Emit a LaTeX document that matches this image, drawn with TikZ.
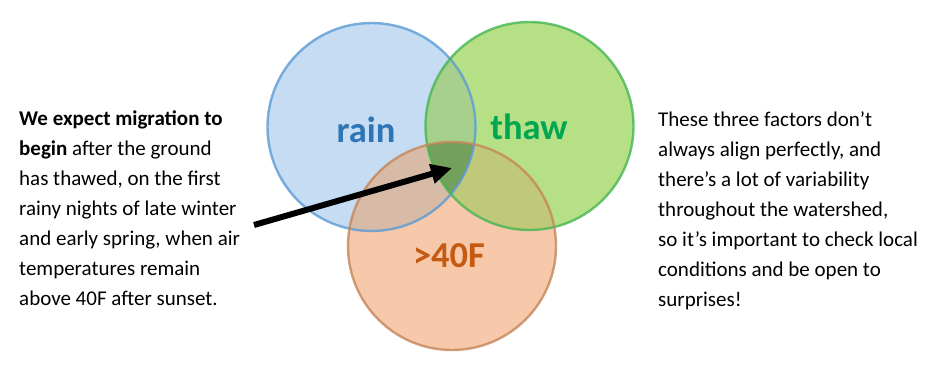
\documentclass[tikz,border=0pt]{standalone}
\usepackage{fontspec}
\setmainfont{Carlito}
\usetikzlibrary{arrows.meta}
\definecolor{rainline}{HTML}{5B9BD5}
\definecolor{rainfill}{HTML}{C5DCF2}
\definecolor{raintext}{HTML}{2E75B6}
\definecolor{thawline}{HTML}{45B653}
\definecolor{thawfill}{HTML}{B6E086}
\definecolor{thawtext}{HTML}{00A650}
\definecolor{templine}{HTML}{C5865A}
\definecolor{tempfill}{HTML}{F7C8AA}
\definecolor{temptext}{HTML}{C55A11}
\definecolor{rtfill}{HTML}{A6D08C}
\definecolor{rxfill}{HTML}{D8BBA6}
\definecolor{txfill}{HTML}{C0C87A}
\definecolor{allfill}{HTML}{73A05A}
\tikzset{
  venn/.style={circle, minimum size=208pt, inner sep=0pt},
  ring/.style={line width=2.4pt, draw opacity=0.8},
  vlabel/.style={font=\fontsize{36.5}{40}\selectfont\bfseries},
  bodyline/.style={anchor=base west, inner sep=0pt, font=\fontsize{21}{30}\selectfont},
}
\begin{document}
\begin{tikzpicture}[x=1pt,y=-1pt]
\useasboundingbox (0,0) rectangle (936,372);
\coordinate (cr) at (371.5,127);
\coordinate (ct) at (529.5,126);
\coordinate (cx) at (452,246);
% single fills
\node[venn, fill=rainfill] (rain) at (cr) {};
\node[venn, fill=thawfill] (thaw) at (ct) {};
\node[venn, fill=tempfill] (temp) at (cx) {};
% pairwise overlaps
\begin{scope}
  \clip (cr) circle (104);
  \fill[rtfill] (ct) circle (104);
  \fill[rxfill] (cx) circle (104);
\end{scope}
\begin{scope}
  \clip (ct) circle (104);
  \fill[txfill] (cx) circle (104);
  \clip (cx) circle (104);
  \fill[allfill] (cr) circle (104);
\end{scope}
% outlines
\node[venn, ring, draw=rainline] (rainring) at (cr) {};
\node[venn, ring, draw=thawline] (thawring) at (ct) {};
\node[venn, ring, draw=templine] (tempring) at (cx) {};
\node[vlabel, text=raintext] (rainlbl) at (366,130) {rain};
\node[vlabel, text=thawtext] (thawlbl) at (529,127) {thaw};
\node[vlabel, text=temptext] (templbl) at (449,256) {>40F};
\coordinate (tail) at (254,225);
\coordinate (tip) at (452,168);
\draw[line width=6pt, -{Triangle[length=21pt,width=19pt]}] (tail) -- (tip);
\node[bodyline] (l1) at (19,125) {\textbf{We expect migration to}};
\node[bodyline] (l2) at (19,155) {\textbf{begin} after the ground};
\node[bodyline] (l3) at (19,185) {has thawed, on the first};
\node[bodyline] (l4) at (19,215) {rainy nights of late winter};
\node[bodyline] (l5) at (19,245) {and early spring, when air};
\node[bodyline] (l6) at (19,275) {temperatures remain};
\node[bodyline] (l7) at (19,305) {above 40F after sunset.};
\node[bodyline] (r1) at (658,126) {These three factors don’t};
\node[bodyline] (r2) at (658,156) {always align perfectly, and};
\node[bodyline] (r3) at (658,186) {there’s a lot of variability};
\node[bodyline] (r4) at (658,216) {throughout the watershed,};
\node[bodyline] (r5) at (658,246) {so it’s important to check local};
\node[bodyline] (r6) at (658,276) {conditions and be open to};
\node[bodyline] (r7) at (658,306) {surprises!};
\end{tikzpicture}
\end{document}
